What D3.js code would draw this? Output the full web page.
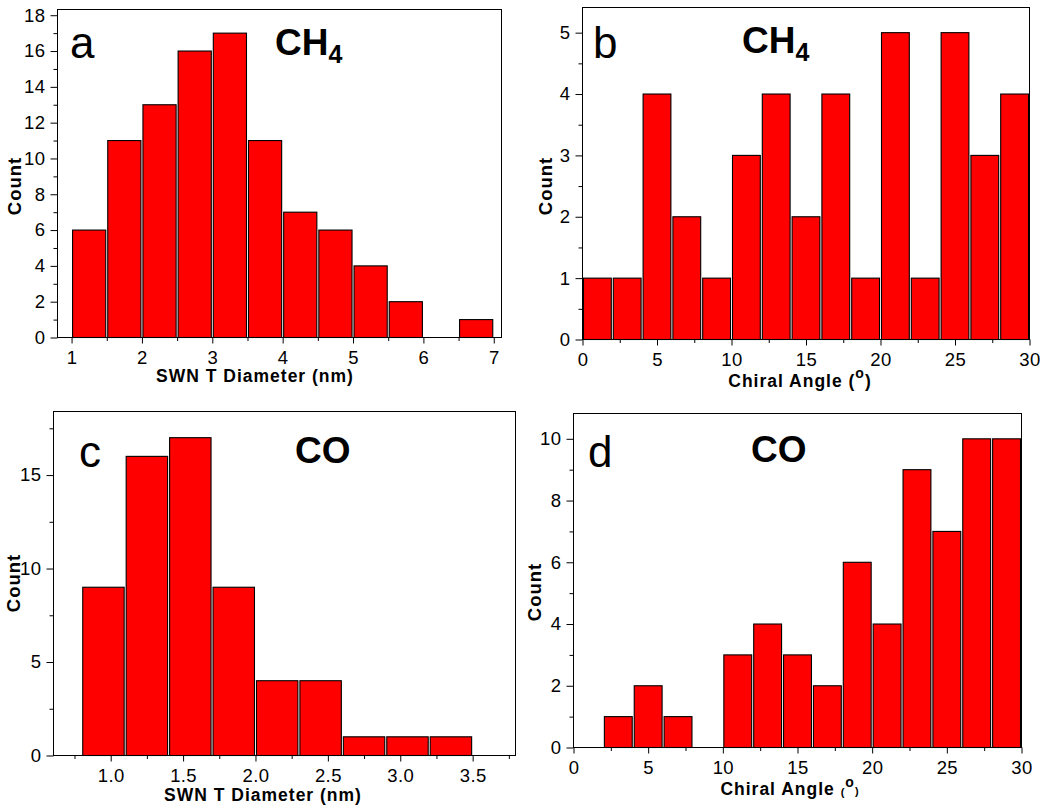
<!DOCTYPE html>
<html><head><meta charset="utf-8">
<script src="https://cdn.jsdelivr.net/npm/d3@7"></script>
<style>body{margin:0;background:#fff} svg{display:block}</style>
</head><body>
<svg id="chart" width="1045" height="810"></svg>
<script>
// ---------- data ----------
const ch4DiameterEdges = [1.0,1.5,2.0,2.5,3.0,3.5,4.0,4.5,5.0,5.5,6.0,6.5,7.0];
const ch4DiameterCounts = [6,11,13,16,17,11,7,6,4,2,0,1];
const ch4AngleEdges = [0,2,4,6,8,10,12,14,16,18,20,22,24,26,28,30];
const ch4AngleCounts = [1,1,4,2,1,3,4,2,4,1,5,1,5,3,4];
const coDiameterEdges = [0.8,1.1,1.4,1.7,2.0,2.3,2.6,2.9,3.2,3.5];
const coDiameterCounts = [9,16,17,9,4,4,1,1,1];
const coAngleEdges = [0,2,4,6,8,10,12,14,16,18,20,22,24,26,28,30];
const coAngleCounts = [0,1,2,1,0,3,4,3,2,6,4,9,7,10,10];

const aXTicks = [1,2,3,4,5,6,7];
const aXMinor = [1.5,2.5,3.5,4.5,5.5,6.5];
const aYTicks = [0,2,4,6,8,10,12,14,16,18];
const aYMinor = [1,3,5,7,9,11,13,15,17];
const angleXTicks = [0,5,10,15,20,25,30];
const angleXMinor = [2.5,7.5,12.5,17.5,22.5,27.5];
const bYTicks = [0,1,2,3,4,5];
const bYMinor = [0.5,1.5,2.5,3.5,4.5];
const cXTicks = [1.0,1.5,2.0,2.5,3.0,3.5];
const cXMinor = [0.75,1.25,1.75,2.25,2.75,3.25,3.75];
const cYTicks = [0,5,10,15];
const cYMinor = [2.5,7.5,12.5,17.5];
const dYTicks = [0,2,4,6,8,10];
const dYMinor = [1,3,5,7,9];

// ---------- drawing ----------
const FONT = "'Liberation Sans', Arial, Helvetica, sans-serif";
const svg = d3.select('#chart').style('font-family', FONT);

function panel(p) {
  const g = svg.append('g');
  const x = d3.scaleLinear().domain(p.xDomain).range([p.left, p.right]);
  const y = d3.scaleLinear().domain(p.yDomain).range([p.bottom, p.top]);
  const bins = p.counts.map((c, i) => ({x0: p.edges[i], x1: p.edges[i + 1], c}))
                       .filter(d => d.c > 0);
  g.selectAll('rect.bar').data(bins).join('rect').attr('class', 'bar')
    .attr('x', d => x(d.x0) + 1)
    .attr('width', d => x(d.x1) - x(d.x0) - 2)
    .attr('y', d => y(d.c))
    .attr('height', d => y(0) - y(d.c))
    .attr('fill', '#ff0000').attr('stroke', '#000').attr('stroke-width', 1.1);

  g.append('rect').attr('x', p.left).attr('y', p.top)
    .attr('width', p.right - p.left).attr('height', p.bottom - p.top)
    .attr('fill', 'none').attr('stroke', '#000').attr('stroke-width', 1);

  const styleAxis = s => {
    s.select('.domain').remove();
    s.selectAll('line').attr('stroke', '#000').attr('stroke-width', 1);
    s.selectAll('text').attr('font-family', FONT).attr('font-size', 18.5)
      .attr('letter-spacing', 0.4).attr('fill', '#000');
  };
  g.append('g').attr('transform', `translate(0,${p.bottom})`)
    .call(d3.axisBottom(x).tickValues(p.xMinor).tickSize(3.5).tickFormat('')).call(styleAxis);
  g.append('g').attr('transform', `translate(0,${p.bottom})`)
    .call(d3.axisBottom(x).tickValues(p.xTicks).tickSize(6).tickPadding(7).tickFormat(p.xFormat))
    .call(styleAxis);
  g.append('g').attr('transform', `translate(${p.left},0)`)
    .call(d3.axisLeft(y).tickValues(p.yMinor).tickSize(4).tickFormat('')).call(styleAxis);
  g.append('g').attr('transform', `translate(${p.left},0)`)
    .call(d3.axisLeft(y).tickValues(p.yTicks).tickSize(7).tickPadding(5).tickFormat(d3.format('d')))
    .call(styleAxis);

  // y title
  g.append('text').attr('transform', `translate(${p.yTitle[0]},${p.yTitle[1]}) rotate(-90)`)
    .attr('text-anchor', 'middle').attr('font-weight', 'bold').attr('font-size', 18.5)
    .attr('letter-spacing', 1).text('Count');

  // x title
  const xt = g.append('text').attr('x', p.xTitle[0]).attr('y', p.xTitle[1])
    .attr('text-anchor', 'middle').attr('font-weight', 'bold').attr('font-size', 17.5)
    .attr('letter-spacing', 1);
  p.xTitleParts.forEach(part => {
    const t = xt.append('tspan').text(part.t);
    if (part.size) t.attr('font-size', part.size);
    if (part.dy) t.attr('dy', part.dy);
  });

  // panel letter
  g.append('text').attr('x', p.letterPos[0]).attr('y', p.letterPos[1])
    .attr('font-size', 44).text(p.letter);

  // gas label
  const gt = g.append('text').attr('x', p.gasPos[0]).attr('y', p.gasPos[1])
    .attr('font-size', 37).attr('font-weight', 'bold');
  gt.append('tspan').text(p.gas);
  if (p.gasSub) gt.append('tspan').attr('font-size', 25).attr('dy', 8).text(p.gasSub);
}

const diamTitle = [{t: 'SWN T Diameter (nm)'}];
const angleTitleB = [{t: 'Chiral Angle ('}, {t: 'o', size: 14, dy: -9}, {t: ')', dy: 9}];
const angleTitleD = [{t: 'Chiral Angle '}, {t: '(', size: 11, dy: 1}, {t: 'o', size: 14, dy: -9}, {t: ')', size: 11, dy: 8}];

panel({
  edges: ch4DiameterEdges, counts: ch4DiameterCounts,
  xDomain: [0.8, 7.11], yDomain: [0, 18.32],
  left: 57.5, right: 501.5, top: 9.5, bottom: 337.5,
  xTicks: aXTicks, xMinor: aXMinor, yTicks: aYTicks, yMinor: aYMinor,
  xFormat: d3.format('d'),
  yTitle: [21, 186], xTitle: [255, 382], xTitleParts: diamTitle,
  letter: 'a', letterPos: [70, 58], gas: 'CH', gasSub: '4', gasPos: [275, 55]
});
panel({
  edges: ch4AngleEdges, counts: ch4AngleCounts,
  xDomain: [0, 30], yDomain: [0, 5.41],
  left: 582.5, right: 1029.5, top: 7.5, bottom: 339.5,
  xTicks: angleXTicks, xMinor: angleXMinor, yTicks: bYTicks, yMinor: bYMinor,
  xFormat: d3.format('d'),
  yTitle: [552, 186], xTitle: [800, 387], xTitleParts: angleTitleB,
  letter: 'b', letterPos: [593, 58], gas: 'CH', gasSub: '4', gasPos: [742, 53]
});
panel({
  edges: coDiameterEdges, counts: coDiameterCounts,
  xDomain: [0.605, 3.796], yDomain: [0, 18.4],
  left: 53.5, right: 515.5, top: 411.5, bottom: 755.5,
  xTicks: cXTicks, xMinor: cXMinor, yTicks: cYTicks, yMinor: cYMinor,
  xFormat: d3.format('.1f'),
  yTitle: [20, 583], xTitle: [263, 801], xTitleParts: diamTitle,
  letter: 'c', letterPos: [79, 467], gas: 'CO', gasPos: [295, 463]
});
panel({
  edges: coAngleEdges, counts: coAngleCounts,
  xDomain: [0, 30], yDomain: [0, 10.82],
  left: 573.5, right: 1021.5, top: 413.5, bottom: 747.5,
  xTicks: angleXTicks, xMinor: angleXMinor, yTicks: dYTicks, yMinor: dYMinor,
  xFormat: d3.format('d'),
  yTitle: [541, 592], xTitle: [790, 795], xTitleParts: angleTitleD,
  letter: 'd', letterPos: [588, 467], gas: 'CO', gasPos: [751, 462]
});
</script>
</body></html>
